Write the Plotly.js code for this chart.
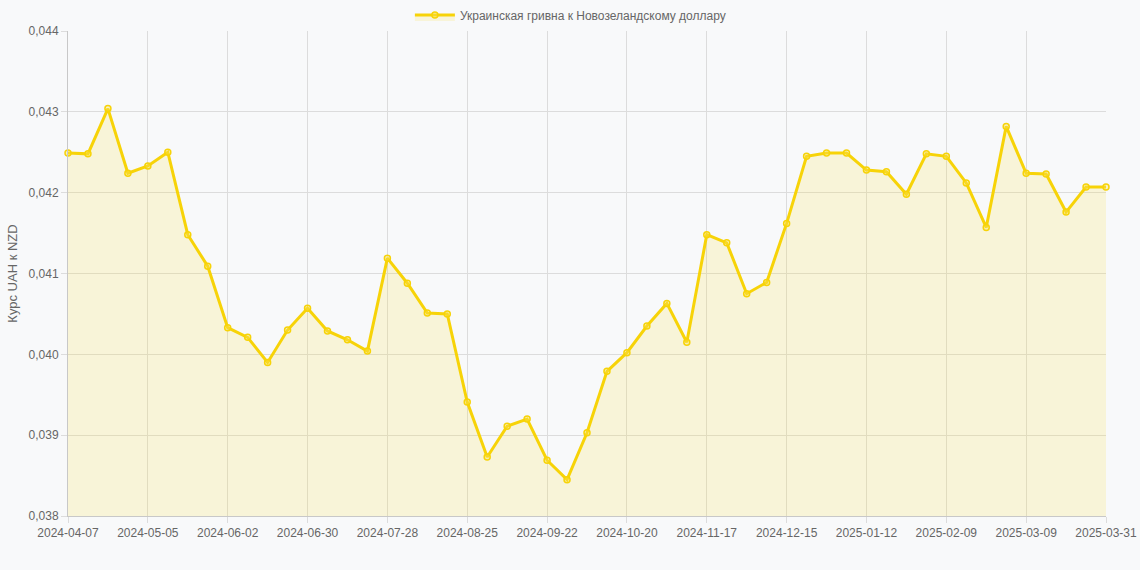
<!DOCTYPE html>
<html>
<head>
<meta charset="utf-8">
<script src="https://cdn.plot.ly/plotly-3.0.1.min.js"></script>
<style>
  html, body { margin: 0; padding: 0; background: #f8f9fa; }
  #chart { width: 1140px; height: 570px; }
</style>
</head>
<body>
<div id="chart"></div>
<script>
const dates = [
  "2024-04-07","2024-04-14","2024-04-21","2024-04-28","2024-05-05","2024-05-12","2024-05-19","2024-05-26",
  "2024-06-02","2024-06-09","2024-06-16","2024-06-23","2024-06-30","2024-07-07","2024-07-14","2024-07-21",
  "2024-07-28","2024-08-04","2024-08-11","2024-08-18","2024-08-25","2024-09-01","2024-09-08","2024-09-15",
  "2024-09-22","2024-09-29","2024-10-06","2024-10-13","2024-10-20","2024-10-27","2024-11-03","2024-11-10",
  "2024-11-17","2024-11-24","2024-12-01","2024-12-08","2024-12-15","2024-12-22","2024-12-29","2025-01-05",
  "2025-01-12","2025-01-19","2025-01-26","2025-02-02","2025-02-09","2025-02-16","2025-02-23","2025-03-02",
  "2025-03-09","2025-03-16","2025-03-23","2025-03-30","2025-03-31"
];
const rates = [
  0.04249,0.04248,0.04304,0.04224,0.04233,0.04250,0.04148,0.04109,
  0.04033,0.04021,0.03990,0.04030,0.04057,0.04029,0.04018,0.04004,
  0.04119,0.04088,0.04051,0.04050,0.03941,0.03873,0.03911,0.03920,
  0.03869,0.03845,0.03903,0.03979,0.04002,0.04035,0.04063,0.04015,
  0.04148,0.04138,0.04075,0.04089,0.04162,0.04245,0.04249,0.04249,
  0.04228,0.04226,0.04198,0.04248,0.04245,0.04212,0.04157,0.04282,
  0.04224,0.04223,0.04176,0.04207,0.04207
];
const tickLabels = [
  "2024-04-07","2024-05-05","2024-06-02","2024-06-30","2024-07-28","2024-08-25","2024-09-22",
  "2024-10-20","2024-11-17","2024-12-15","2025-01-12","2025-02-09","2025-03-09","2025-03-31"
];
const seriesName = "Украинская гривна к Новозеландскому доллару";
const yTitle = "Курс UAH к NZD";

const lineColor = "#f7d308";
const trace = {
  x: dates,
  y: rates,
  type: "scatter",
  mode: "lines+markers",
  name: seriesName,
  fill: "tozeroy",
  fillcolor: "rgba(250,220,60,0.18)",
  line: { color: lineColor, width: 3 },
  marker: { size: 6, color: "rgba(250,225,90,0.35)", line: { color: lineColor, width: 1.5 } },
  cliponaxis: false
};

const layout = {
  width: 1140,
  height: 570,
  paper_bgcolor: "#f8f9fa",
  plot_bgcolor: "#f8f9fa",
  separators: ",.",
  font: { family: "Liberation Sans, Arial, sans-serif", size: 12, color: "#666" },
  margin: { l: 68, r: 34, t: 31, b: 54, autoexpand: false },
  showlegend: true,
  legend: {
    orientation: "h",
    x: 0.484, xanchor: "center",
    y: 1.033, yanchor: "middle",
    font: { size: 12, color: "#666" },
    bgcolor: "rgba(0,0,0,0)",
    itemwidth: 40
  },
  xaxis: {
    type: "category",
    range: [0, dates.length - 1],
    tickmode: "array",
    tickvals: tickLabels,
    ticktext: tickLabels,
    tickangle: 0,
    showgrid: true,
    gridcolor: "#dcdcdc",
    gridwidth: 1,
    ticks: "outside",
    ticklen: 6,
    tickcolor: "#dcdcdc",
    showline: true,
    linecolor: "#c8c8c8",
    linewidth: 1,
    zeroline: false,
    automargin: false,
    tickfont: { size: 12, color: "#666" }
  },
  yaxis: {
    range: [0.038, 0.044],
    dtick: 0.001,
    tick0: 0.038,
    tickformat: ".3f",
    showgrid: true,
    gridcolor: "#dcdcdc",
    gridwidth: 1,
    ticks: "outside",
    ticklen: 6,
    tickcolor: "#dcdcdc",
    showline: true,
    linecolor: "#c8c8c8",
    linewidth: 1,
    zeroline: false,
    automargin: false,
    tickfont: { size: 12, color: "#666" },
    title: { text: yTitle, font: { size: 13, color: "#666" }, standoff: 8 }
  }
};

Plotly.newPlot("chart", [trace], layout, { displayModeBar: false, staticPlot: true });
</script>
</body>
</html>
